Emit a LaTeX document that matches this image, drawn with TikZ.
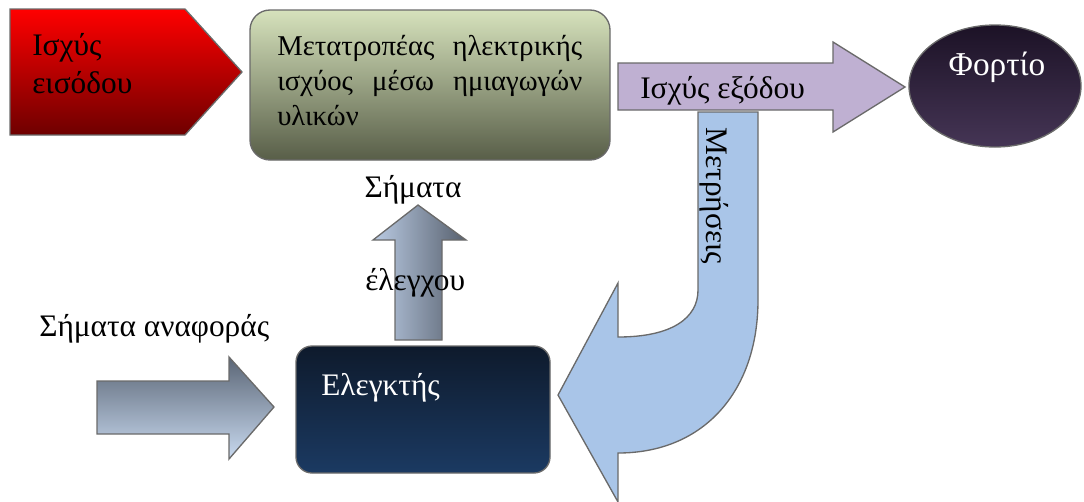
\documentclass[tikz,border=0pt]{standalone}
\usepackage{fontspec}
\setmainfont{Liberation Serif}
\definecolor{edge}{HTML}{6A6A6A}
\definecolor{redtop}{HTML}{FF0000}
\definecolor{redbot}{HTML}{6E0000}
\definecolor{grntop}{HTML}{D6E2BC}
\definecolor{grnbot}{HTML}{585E48}
\definecolor{lav}{HTML}{BFB0D2}
\definecolor{elltop}{HTML}{1C1226}
\definecolor{ellbot}{HTML}{453555}
\definecolor{lblue}{HTML}{A9C5E8}
\definecolor{navtop}{HTML}{0E1A2C}
\definecolor{navbot}{HTML}{1B3A62}
\definecolor{reftop}{HTML}{5B6676}
\definecolor{refbot}{HTML}{C9DAF0}
\definecolor{upl}{HTML}{BACBE3}
\definecolor{upr}{HTML}{57606E}
\tikzset{
  shape edge/.style={draw=edge, line width=1pt},
  lbl/.style={inner sep=0pt, font=\fontsize{23.5}{28}\selectfont},
}
\begin{document}
\begin{tikzpicture}[x=0.75pt,y=-0.75pt]
\useasboundingbox (0,0) rectangle (1084,501);
% input power arrow
\path[shape edge, top color=redtop, bottom color=redbot]
  (10,9) -- (185,9) -- (242,72) -- (185,135) -- (10,135) -- cycle;
\node[lbl, anchor=base west] (in1) at (32,55) {Ισχύς};
\node[lbl, anchor=base west] (in2) at (32,93) {εισόδου};
% converter
\path[shape edge, rounded corners=15pt, top color=grntop, bottom color=grnbot]
  (250,10) rectangle (610,160);
\node[inner sep=0pt, anchor=base west, font=\fontsize{21.5}{26.25}\selectfont] (conv) at (277,55)
  {\parbox[t]{228.75pt}{Μετατροπέας ηλεκτρικής ισχύος μέσω ημιαγωγών υλικών}};
% feedback curved arrow
\path[shape edge, fill=lblue]
  (698,112) -- (698,290) .. controls (698,318) and (672,337) .. (618,337)
  -- (618,283) -- (558,395) -- (618,502) -- (618,453)
  .. controls (705,453) and (758,390) .. (758,300) -- (758,112) -- cycle;
\node[lbl, rotate=-90] (meas) at (714,196) {Μετρήσεις};
% output arrow
\path[shape edge, fill=lav]
  (618,63) -- (833,63) -- (833,42) -- (905,87) -- (833,132) -- (833,110) -- (618,110) -- cycle;
\node[lbl, anchor=base west] (out) at (640,98) {Ισχύς εξόδου};
% load
\path[shape edge, top color=elltop, bottom color=ellbot] (995,86) ellipse [x radius=86, y radius=61];
\node[lbl, anchor=base, text=white, font=\fontsize{25}{30}\selectfont] (load) at (997,75) {Φορτίο};
% controller
\path[shape edge, rounded corners=12pt, top color=navtop, bottom color=navbot]
  (296,346) rectangle (550,473);
\node[lbl, anchor=base west, text=white] (ctrl) at (321,395) {Ελεγκτής};
% reference arrow
\path[shape edge, top color=reftop, bottom color=refbot]
  (97,381) -- (229,381) -- (229,357) -- (274,407) -- (229,459) -- (229,434) -- (97,434) -- cycle;
\node[lbl, anchor=base west] (ref) at (39,336) {Σήματα αναφοράς};
% control signal arrow
\path[shape edge, left color=upl, right color=upr]
  (395,340) -- (395,240) -- (373,240) -- (418,205) -- (466,240) -- (442,240) -- (442,340) -- cycle;
\node[lbl, anchor=base] (sig1) at (413,197) {Σήματα};
\node[lbl, anchor=base west] (sig2) at (365,290) {έλεγχου};
\end{tikzpicture}
\end{document}
